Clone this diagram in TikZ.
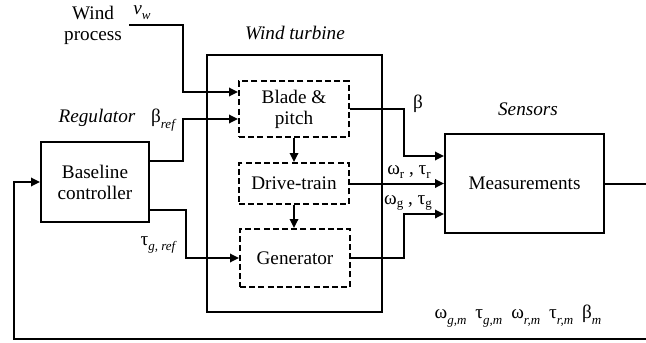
\documentclass[tikz,border=0pt]{standalone}
\usepackage{fontspec}
\setmainfont{Liberation Serif}
\usepackage{tikz}
\usetikzlibrary{arrows.meta, positioning}
\newcommand{\lsub}[1]{\raisebox{-0.6ex}{\fontsize{6.5}{7}\selectfont\itshape #1}}
\newcommand{\usub}[1]{\raisebox{-0.4ex}{\fontsize{6.5}{7}\selectfont #1}}

\begin{document}
\begin{tikzpicture}[x=0.5pt, y=-0.5pt, line width=1pt,
    font=\fontsize{9.6}{10.5}\selectfont,
    block/.style={draw, rectangle, inner sep=0pt, align=center},
    part/.style={block, dashed, dash pattern=on 3pt off 1.6pt, minimum width=55pt},
    sig/.style={-{Triangle[length=4.5pt, width=4.2pt]}},
    title/.style={font=\fontsize{9.6}{10.5}\selectfont\itshape}]
    \useasboundingbox (0,0) rectangle (646,342);

    \node[block, minimum width=87.5pt, minimum height=128.5pt] (turbine) at (294.5,183.5) {};
    \node[part, minimum height=28pt] (blade) at (294,109) {Blade \&\\pitch};
    \node[part, minimum height=20.5pt] (drive) at (294,183.5) {Drive-train};
    \node[part, minimum height=29pt] (gen) at (295,258) {Generator};
    \node[block, minimum width=54pt, minimum height=40pt] (ctrl) at (95,182) {Baseline\\controller};
    \node[block, minimum width=79.5pt, minimum height=49.5pt] (meas) at (524.5,183.5) {Measurements};

    \node[align=center] (wind) at (93,25) {Wind\\process};
    \node (vw) at (142,13) {\textit{v}\lsub{w}};
    \node[title] (regulator) at (97,118) {Regulator};
    \node (betaref) at (163,120) {β\lsub{ref}};
    \node[title] (turbinelbl) at (295,33) {Wind turbine};
    \node (tauref) at (158,245) {τ\lsub{g, ref}};
    \node (beta) at (418,104) {β};
    \node[title] (sensors) at (528,109) {Sensors};
    \node (wrtr) at (409,172) {ω\usub{r} , τ\usub{r}};
    \node (wgtg) at (408,203) {ω\usub{g} , τ\usub{g}};
    \node (measlbl) at (518,316) {ω\lsub{g,m}\hspace{4.5pt}τ\lsub{g,m}\hspace{4.5pt}ω\lsub{r,m}\hspace{4.5pt}τ\lsub{r,m}\hspace{4.5pt}β\lsub{m}};

    \coordinate (out) at (646,183.5);
    \coordinate (ret) at (646,339);

    \draw[sig] (wind.east) -| (183,92) -- (blade.west |- 0,92);
    \draw[sig] (ctrl.east |- 0,161) -| (183,119) -- (blade.west |- 0,119);
    \draw[sig] (ctrl.east |- 0,210) -| (186,258) -- (gen.west);
    \draw[sig] (blade.south) -- (drive.north);
    \draw[sig] (drive.south) -- (drive.south |- gen.north);
    \draw[sig] (blade.east) -| (404,156) -- (meas.west |- 0,156);
    \draw[sig] (drive.east) -- (meas.west |- drive.east);
    \draw[sig] (gen.east) -| (404,214) -- (meas.west |- 0,214);
    \draw (meas.east) -- (out);
    \draw[sig] (ret) -| (14,182) -- (ctrl.west);
\end{tikzpicture}
\end{document}
